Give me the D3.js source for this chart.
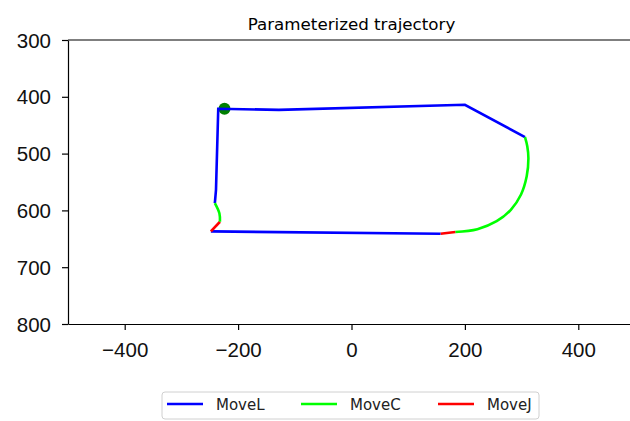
<!DOCTYPE html>
<html>
<head>
<meta charset="utf-8">
<script src="https://cdn.jsdelivr.net/npm/d3@7"></script>
<style>
	body { margin: 0; background: #fff; }
	svg { display: block; font-family: "DejaVu Sans", sans-serif; }
	.axis path, .axis line { stroke: #000; stroke-width: 1.2; }
	.axis text { fill: #111; font-size: 20.5px; }
</style>
</head>
<body>
<div id="chart"></div>
<script>
// trajectory pieces (x, y in mm)
var moveL1 = [[-241, 587], [-239, 564], [-235, 421], [-128, 423], [200, 414], [306, 471]];
var moveC1 = [[306, 471], [310, 487], [312, 508], [309, 540], [299, 572], [281, 599], [256, 619], [222, 633], [183, 638]];
var moveJ1 = [[183, 638], [157, 641]];
var moveL2 = [[157, 641], [-248, 637]];
var moveJ2 = [[-248, 637], [-232, 620]];
var moveC2 = [[-232, 620], [-233, 605], [-241, 587]];
var startPoint = [-224, 421];

var legendNames = ["MoveL", "MoveC", "MoveJ"];
var legendColors = ["#0000ff", "#00ff00", "#ff0000"];
var xTicks = [-400, -200, 0, 200, 400];
var yTicks = [300, 400, 500, 600, 700, 800];

var segments = [
	{ type: "MoveL", pts: moveL1 },
	{ type: "MoveC", pts: moveC1 },
	{ type: "MoveJ", pts: moveJ1 },
	{ type: "MoveL", pts: moveL2 },
	{ type: "MoveJ", pts: moveJ2 },
	{ type: "MoveC", pts: moveC2 }
];

var W = 630, H = 421;
var margin = { top: 40, left: 68, right: -5, bottom: 97 };

var svg = d3.select("#chart").append("svg")
	.attr("width", W)
	.attr("height", H);

var x = d3.scaleLinear().domain([-500, 500]).range([margin.left, W - margin.right]);
var y = d3.scaleLinear().domain([300, 800]).range([margin.top, H - margin.bottom]);
var color = d3.scaleOrdinal().domain(legendNames).range(legendColors);

// title
svg.append("text")
	.attr("x", (x(-500) + x(500)) / 2)
	.attr("y", 30)
	.attr("text-anchor", "middle")
	.style("font-size", "16.7px")
	.text("Parameterized trajectory");

// start point (drawn first, lines go over it)
svg.append("circle")
	.attr("cx", x(startPoint[0]))
	.attr("cy", y(startPoint[1]))
	.attr("r", 6)
	.attr("fill", "#008000");

// the path pieces
var straight = d3.line()
	.x(function(d) { return x(d[0]); })
	.y(function(d) { return y(d[1]); });
var curved = d3.line()
	.x(function(d) { return x(d[0]); })
	.y(function(d) { return y(d[1]); })
	.curve(d3.curveCatmullRom.alpha(0.5));

svg.selectAll("path.seg")
	.data(segments)
	.enter().append("path")
	.attr("class", "seg")
	.attr("fill", "none")
	.attr("stroke", function(d) { return color(d.type); })
	.attr("stroke-width", 2.6)
	.attr("d", function(d) { return d.type === "MoveC" ? curved(d.pts) : straight(d.pts); });

// axes
svg.append("g")
	.attr("class", "axis")
	.attr("transform", "translate(0," + y(800) + ")")
	.call(d3.axisBottom(x).tickValues(xTicks).tickSize(6).tickPadding(8).tickSizeOuter(0))
	.selectAll("text").attr("dy", "0.95em");

svg.append("g")
	.attr("class", "axis")
	.attr("transform", "translate(" + x(-500) + ",0)")
	.call(d3.axisLeft(y).tickValues(yTicks).tickSize(6).tickPadding(11).tickSizeOuter(0))
	.selectAll("text").attr("dy", "0.35em");

// top spine
svg.append("line")
	.attr("x1", x(-500)).attr("x2", x(500))
	.attr("y1", y(300)).attr("y2", y(300))
	.attr("stroke", "#000").attr("stroke-width", 1.2);

// legend below the axes
var lg = svg.append("g").attr("transform", "translate(162,392)");
lg.append("rect")
	.attr("width", 377).attr("height", 27)
	.attr("rx", 3)
	.attr("fill", "#fff")
	.attr("stroke", "#d0d0d0");

var item = lg.selectAll("g.item")
	.data(legendNames)
	.enter().append("g")
	.attr("class", "item")
	.attr("transform", function(d, i) { return "translate(" + [5, 139, 276][i] + ",0)"; });
item.append("line")
	.attr("x1", 0).attr("x2", 36)
	.attr("y1", 12).attr("y2", 12)
	.attr("stroke", function(d) { return color(d); })
	.attr("stroke-width", 2.6);
item.append("text")
	.attr("x", 49).attr("y", 17.5)
	.style("font-size", "15px")
	.attr("fill", "#222")
	.text(function(d) { return d; });
</script>
</body>
</html>
